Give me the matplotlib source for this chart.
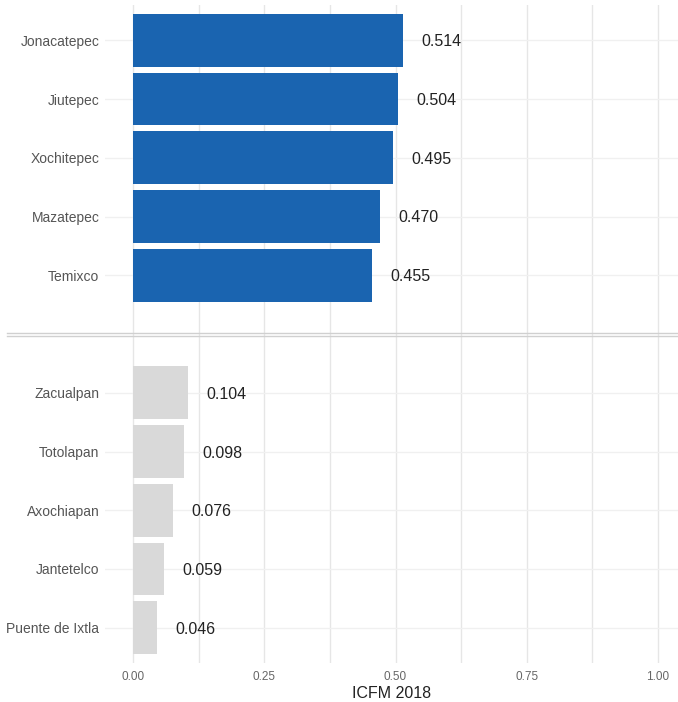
import matplotlib
matplotlib.use("Agg")
import matplotlib.pyplot as plt
from matplotlib.lines import Line2D

top_names = ["Jonacatepec", "Jiutepec", "Xochitepec", "Mazatepec", "Temixco"]
top_values = [0.514, 0.504, 0.495, 0.470, 0.455]
bottom_names = ["Zacualpan", "Totolapan", "Axochiapan", "Jantetelco", "Puente de Ixtla"]
bottom_values = [0.104, 0.098, 0.076, 0.059, 0.046]
x_ticks = [0.0, 0.25, 0.5, 0.75, 1.0]
x_ticklabels = ["0.00", "0.25", "0.50", "0.75", "1.00"]
x_title = "ICFM 2018"

plt.rcParams['font.family'] = ['Liberation Sans', 'DejaVu Sans']

W, H = 678, 702
fig = plt.figure(figsize=(W / 100, H / 100), dpi=100)
left_px, right_px = 105, 678
top_px, bot_px = 5, 663
ax = fig.add_axes([left_px / W, 1 - bot_px / H, (right_px - left_px) / W, (bot_px - top_px) / H])

names = top_names + [""] + bottom_names
values = top_values + [None] + bottom_values
colors = ["#1a64b0"] * 5 + [None] + ["#d9d9d9"] * 5
pos = list(range(len(names)))

# grid
for xv in [0, 0.125, 0.25, 0.375, 0.5, 0.625, 0.75, 0.875, 1.0]:
    ax.axvline(xv, color="#e6e6e6", lw=1.0, zorder=0)
for p, n in zip(pos, names):
    if n:
        ax.axhline(p, color="#f0f0f0", lw=1.0, zorder=0)

for p, v, c in zip(pos, values, colors):
    if v is None:
        continue
    ax.barh(p, v, height=0.9, color=c, zorder=2)
    ax.text(v + 0.035, p, f"{v:.3f}", ha="left", va="center_baseline", fontsize=11.5,
            color="#222222", zorder=3)

# separator between groups
fig.add_artist(Line2D([7 / W, 1.0], [1 - (334.5 - 1.5) / H] * 2, color="#d0d0d0", lw=1.0))
fig.add_artist(Line2D([7 / W, 1.0], [1 - (334.5 + 1.5) / H] * 2, color="#d0d0d0", lw=1.0))

ax.set_ylim(10.6, -0.6)
ax.set_xlim(-(133 - left_px) / 525, (right_px - 133) / 525)
ax.set_yticks([p for p, n in zip(pos, names) if n])
ax.set_yticklabels([n for n in names if n], fontsize=10, color="#555555", va="center_baseline")
ax.set_xticks(x_ticks)
ax.set_xticklabels(x_ticklabels, fontsize=8.5, color="#666666")
ax.tick_params(length=0, pad=4)
ax.tick_params(axis="x", pad=6)
ax.set_xlabel(x_title, fontsize=11.5, color="#222222", labelpad=2)
for s in ax.spines.values():
    s.set_visible(False)
ax.set_facecolor("white")

fig.savefig("out.png", dpi=100)
